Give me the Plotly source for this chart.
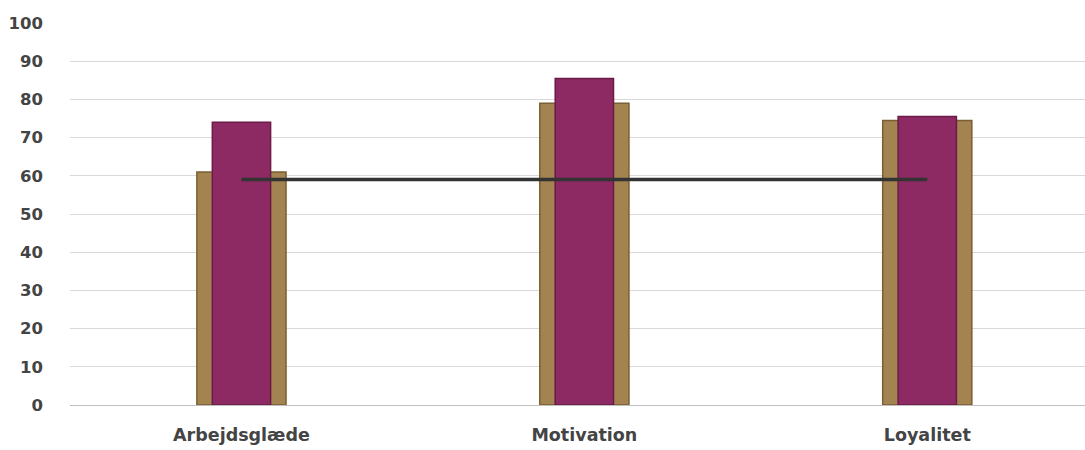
import plotly.graph_objects as go

categories = ["Arbejdsglæde", "Motivation", "Loyalitet"]
tan_values = [61, 79, 74.5]
magenta_values = [74, 85.5, 75.5]
line_values = [59, 59, 59]
y_ticks = [0, 10, 20, 30, 40, 50, 60, 70, 80, 90, 100]

fig = go.Figure()
fig.add_trace(go.Bar(
    x=categories, y=tan_values, width=0.26,
    marker=dict(color="#A3834F", line=dict(color="#7A5F35", width=1.5)),
    showlegend=False,
))
fig.add_trace(go.Bar(
    x=categories, y=magenta_values, width=0.17,
    marker=dict(color="#8E2A63", line=dict(color="#6A1B47", width=1.5)),
    showlegend=False,
))
fig.add_trace(go.Scatter(
    x=categories, y=line_values, mode="lines",
    line=dict(color="#333333", width=3.5),
    showlegend=False,
))

fig.update_layout(
    width=1085, height=450,
    margin=dict(l=70, r=0, t=23, b=45),
    barmode="overlay",
    plot_bgcolor="white", paper_bgcolor="white",
    font=dict(family="DejaVu Sans", color="#444444"),
    xaxis=dict(
        range=[-0.5, 2.46], showgrid=False, showline=False, zeroline=False,
        tickfont=dict(size=17.5, color="#444444", family="DejaVu Sans", weight="bold"),
        ticks="", ticklabelstandoff=17,
    ),
    yaxis=dict(
        range=[0, 100], tickvals=y_ticks, showgrid=True, gridcolor="#D9D9D9",
        gridwidth=1, zeroline=True, zerolinecolor="#BFBFBF", zerolinewidth=1,
        tickfont=dict(size=16.5, color="#444444", family="DejaVu Sans", weight="bold"),
        ticks="", ticklabelstandoff=26, showline=False,
    ),
)

fig.write_html("out.html")
